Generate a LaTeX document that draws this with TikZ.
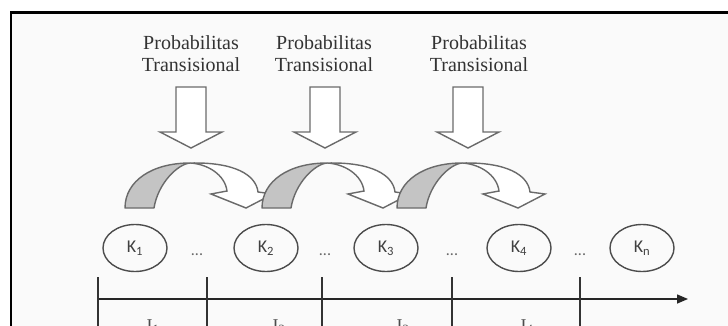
\documentclass[tikz,border=0pt]{standalone}
\usepackage{fontspec}
\setmainfont{Liberation Serif}
\newfontfamily\kfont{Carlito}
\usetikzlibrary{shapes.geometric,arrows.meta}
\definecolor{edge}{HTML}{6A6A6A}
\definecolor{shade}{HTML}{C4C4C4}
\definecolor{paper}{HTML}{FAFAFA}
\definecolor{ink}{HTML}{333333}
\tikzset{
  blockarrow/.style={draw=edge, fill=white, line width=1.4pt, line join=miter},
  crescent/.style={draw=edge, fill=shade, line width=1.4pt, line join=round},
  bandtop/.style={draw=edge, fill=white, line width=1.4pt, line join=miter},
  state/.style={ellipse, draw=black!70, line width=1.4pt, minimum width=64pt,
    minimum height=47pt, inner sep=0pt, font=\kfont\fontsize{18}{18}\selectfont, text=black!75},
  caption/.style={align=center, font=\fontsize{20}{22}\selectfont, text=ink, inner sep=0pt, anchor=north},
  dots/.style={font=\kfont\fontsize{16}{16}\selectfont, text=black!60, inner sep=0pt},
  tickline/.style={line width=2pt, draw=black!80},
  axisline/.style={line width=1.5pt, draw=black!85, -{Triangle[length=11pt,width=9pt]}},
  interval/.style={font=\fontsize{18}{18}\selectfont, text=black!70, inner sep=0pt, anchor=base},
  downarrow/.pic={
    \draw[blockarrow] (-15,0) -- (15,0) -- (15,45) -- (31,45) -- (0,61) -- (-31,45) -- (-15,45) -- cycle;
  },
  curvedarrow/.pic={
    \draw[bandtop] (0,0) .. controls (45,-1) and (66,12) .. (68,29) -- (83,31) -- (56,45)
      -- (21,31) -- (37,28) .. controls (35,12) and (18,1) .. (0,0) -- cycle;
    \draw[crescent] (-65,45) .. controls (-65,18) and (-38,0) .. (0,0)
      .. controls (-12,1) and (-32,20) .. (-36,45) -- cycle;
  },
}
\begin{document}
\begin{tikzpicture}[x=1pt,y=-1pt]
\useasboundingbox (0,0) rectangle (728,326);
\clip (0,0) rectangle (728,326);
\fill[white] (0,0) rectangle (728,326);
\fill[paper] (11,12.5) rectangle (740,340);
\draw[line width=2.2pt] (11,340) -- (11,12.5) -- (740,12.5);

% captions
\node[caption] (c1) at (191,35) {Probabilitas\\Transisional};
\node[caption] (c2) at (324,35) {Probabilitas\\Transisional};
\node[caption] (c3) at (479,35) {Probabilitas\\Transisional};

% down block arrows
\pic at (191,87) {downarrow};
\pic at (325,87) {downarrow};
\pic at (468,87) {downarrow};

% curved block arrows
\pic at (190,163) {curvedarrow};
\pic at (327,163) {curvedarrow};
\pic at (462,163) {curvedarrow};

% states
\node[state] (k1) at (135,248) {K\textsubscript{1}};
\node[state] (k2) at (266,248) {K\textsubscript{2}};
\node[state] (k3) at (386,248) {K\textsubscript{3}};
\node[state] (k4) at (519,248) {K\textsubscript{4}};
\node[state] (kn) at (642,248) {K\textsubscript{n}};

\node[dots] (d1) at (197,255) {...};
\node[dots] (d2) at (325,255) {...};
\node[dots] (d3) at (452,255) {...};
\node[dots] (d4) at (580,255) {...};

% time axis
\coordinate (ax0) at (98,299);
\coordinate (ax1) at (688,299);
\draw[axisline] (ax0) -- (ax1);
\foreach \x [count=\i] in {98,207,322,452,580}{
  \coordinate (ta\i) at (\x,277);
  \coordinate (tb\i) at (\x,330);
  \draw[tickline] (ta\i) -- (tb\i);
}

\node[interval] (i1) at (153,331) {I\textsubscript{1}};
\node[interval] (i2) at (279,331) {I\textsubscript{2}};
\node[interval] (i3) at (403,331) {I\textsubscript{3}};
\node[interval] (i4) at (527,331) {I\textsubscript{4}};
\end{tikzpicture}
\end{document}
